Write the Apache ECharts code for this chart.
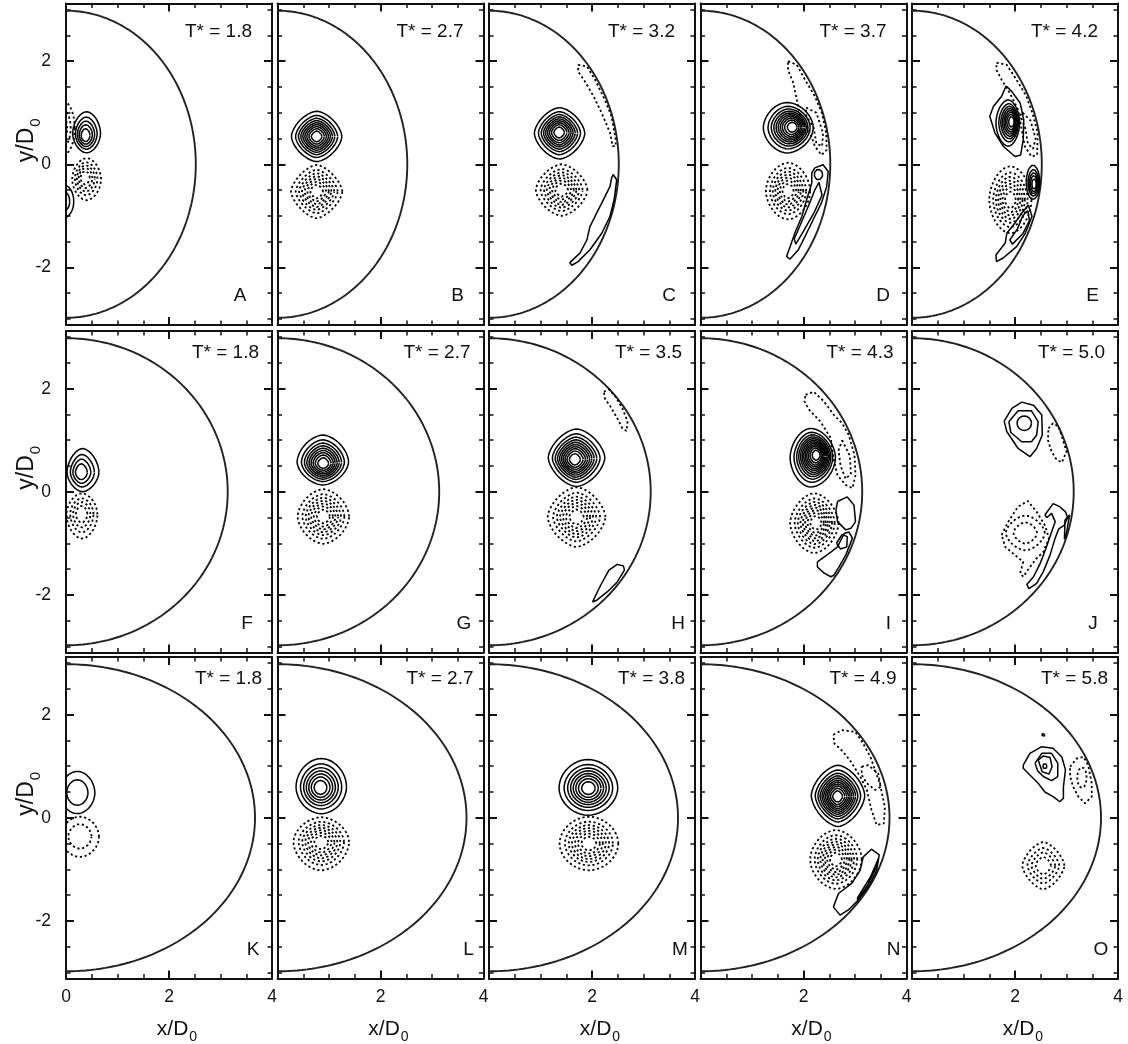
<!DOCTYPE html>
<html><head><meta charset="utf-8">
<script src="https://cdn.jsdelivr.net/npm/echarts@6/dist/echarts.min.js"></script>
<style>html,body{margin:0;padding:0;background:#fff}#chart{width:1128px;height:1044px}</style>
</head><body><div id="chart"></div>
<script>
// ---------------- DATA ----------------
const panelLetters = ['A','B','C','D','E','F','G','H','I','J','K','L','M','N','O'];
const timeValues = ['1.8','2.7','3.2','3.7','4.2','1.8','2.7','3.5','4.3','5.0','1.8','2.7','3.8','4.9','5.8'];
const dropSemiAxisX = [2.52, 3.14, 3.67];   // per row (x/D0)
const dropSemiAxisY = 2.98;                 // y/D0
const xRange = [0, 4];
const yRange = [-3.12, 3.12];

// vortex rings: [panel, dashed, cx, cy, rxLeft, rxRight, ryTop, ryBottom, coreX, coreY, levels, shapeExp]
const vortexRings = [
  [0,0, 0.40,0.60, 0.27,0.27, 0.42,0.38, 0.37,0.54, 5,1.8],
  [0,1,-0.10,0.70, 0.27,0.27, 0.55,0.55,-0.10,0.70, 3,2.0],
  [0,1, 0.40,-0.29,0.28,0.28, 0.41,0.41, 0.36,-0.25,5,1.8],
  [0,0,-0.05,-0.72,0.20,0.20, 0.32,0.32,-0.05,-0.72,2,2.0],
  [1,0, 0.76,0.54, 0.49,0.49, 0.49,0.49, 0.76,0.54, 9,1.6],
  [1,1, 0.76,-0.53,0.50,0.50, 0.52,0.52, 0.76,-0.53,7,1.5],
  [2,0, 1.37,0.60, 0.49,0.49, 0.50,0.50, 1.36,0.62, 9,1.6],
  [2,1, 1.41,-0.50,0.50,0.50, 0.50,0.50, 1.41,-0.50,7,1.6],
  [3,0, 1.68,0.71, 0.46,0.51, 0.49,0.49, 1.80,0.72,10,1.8],
  [3,1, 1.70,-0.52,0.43,0.43, 0.55,0.55, 1.70,-0.52,7,1.8],
  [3,0, 2.29,-0.20,0.08,0.08, 0.10,0.10, 2.29,-0.20,1,2.0],
  [4,0, 1.87,0.80, 0.24,0.22, 0.45,0.45, 1.95,0.83, 8,1.8],
  [4,0, 2.35,-0.35,0.13,0.13, 0.33,0.33, 2.38,-0.40,5,2.0],
  [4,1, 1.91,-0.69,0.41,0.41, 0.65,0.65, 1.91,-0.69,7,1.8],
  [5,0, 0.32,0.38, 0.30,0.32, 0.46,0.38, 0.28,0.37, 4,1.7],
  [5,1, 0.31,-0.44,0.30,0.30, 0.41,0.47, 0.30,-0.42,4,1.8],
  [6,0, 0.88,0.58, 0.50,0.50, 0.52,0.45, 0.89,0.54, 9,1.7],
  [6,1, 0.89,-0.48,0.50,0.50, 0.53,0.53, 0.89,-0.48,7,1.7],
  [7,0, 1.70,0.66, 0.55,0.55, 0.56,0.56, 1.66,0.62,10,1.6],
  [7,1, 1.70,-0.49,0.56,0.56, 0.58,0.58, 1.70,-0.49,7,1.6],
  [8,0, 2.14,0.66, 0.40,0.48, 0.57,0.57, 2.26,0.72,12,1.8],
  [8,1, 2.21,-0.61,0.47,0.47, 0.58,0.58, 2.25,-0.60,8,1.7],
  [9,0, 2.18,1.33, 0.14,0.14, 0.14,0.14, 2.18,1.33, 1,2.0],
  [9,1, 2.20,-0.80,0.38,0.38, 0.34,0.34, 2.20,-0.80,2,1.6],
  [10,0,0.22,0.48, 0.34,0.34, 0.42,0.40, 0.22,0.49, 2,1.9],
  [10,1,0.27,-0.37,0.37,0.37, 0.39,0.39, 0.27,-0.35,2,1.9],
  [11,0,0.85,0.60, 0.49,0.49, 0.55,0.52, 0.83,0.58, 7,1.9],
  [11,1,0.85,-0.47,0.54,0.54, 0.48,0.55, 0.85,-0.47,7,1.8],
  [12,0,1.92,0.58, 0.56,0.58, 0.55,0.53, 1.93,0.57, 8,1.9],
  [12,1,1.94,-0.50,0.57,0.57, 0.52,0.52, 1.94,-0.50,7,1.9],
  [13,0,2.67,0.43, 0.52,0.52, 0.59,0.60, 2.66,0.41,11,1.6],
  [13,1,2.63,-0.81,0.50,0.50, 0.57,0.57, 2.63,-0.81,8,1.8],
  [14,0,2.58,1.00, 0.04,0.04, 0.05,0.05, 2.58,1.00, 1,2.0],
  [14,0,2.55,1.61, 0.03,0.03, 0.03,0.03, 2.55,1.61, 1,2.0],
  [14,1,3.30,0.78, 0.09,0.09, 0.20,0.20, 3.30,0.78, 1,2.0],
  [14,1,2.55,-0.93,0.41,0.41, 0.46,0.46, 2.55,-0.93,4,1.5]
];

// irregular contour loops (x/D0, y/D0)
const contourC1 = [[1.73,1.93],[1.90,1.90],[2.06,1.64],[2.25,1.25],[2.38,0.93],[2.46,0.48],[2.46,0.35],[2.40,0.35],[2.35,0.61],[2.19,0.99],[2.03,1.32],[1.86,1.61],[1.73,1.80]];
const contourC2 = [[2.41,-0.20],[2.48,-0.30],[2.43,-0.69],[2.35,-1.01],[2.19,-1.34],[1.96,-1.66],[1.73,-1.89],[1.61,-1.96],[1.57,-1.91],[1.77,-1.72],[1.90,-1.47],[1.96,-1.21],[2.09,-0.95],[2.22,-0.69],[2.35,-0.43],[2.38,-0.27]];
const contourD1 = [[1.70,2.00],[1.87,1.93],[2.03,1.64],[2.22,1.32],[2.36,0.99],[2.44,0.61],[2.45,0.28],[2.35,0.18],[2.22,0.35],[2.13,0.61],[1.93,0.93],[1.87,1.25],[1.80,1.58],[1.70,1.83]];
const contourD2 = [[2.05,1.10],[2.25,1.00],[2.38,0.60],[2.36,0.35],[2.25,0.40],[2.20,0.70],[2.05,0.95]];
const contourD3 = [[2.22,-0.07],[2.38,-0.01],[2.48,-0.14],[2.45,-0.43],[2.35,-0.75],[2.22,-1.01],[2.06,-1.34],[1.90,-1.66],[1.74,-1.84],[1.67,-1.79],[1.74,-1.60],[1.83,-1.34],[1.97,-1.01],[2.06,-0.69],[2.16,-0.37],[2.16,-0.17]];
const contourD4 = [[2.30,-0.35],[2.36,-0.60],[2.20,-0.95],[2.00,-1.30],[1.85,-1.55],[1.82,-1.45],[1.95,-1.15],[2.10,-0.80],[2.22,-0.50]];
const contourE1 = [[1.83,1.52],[1.94,1.41],[2.10,1.19],[2.17,0.86],[2.16,0.48],[2.11,0.18],[2.00,0.15],[1.77,0.35],[1.61,0.61],[1.51,0.93],[1.58,1.12],[1.74,1.32],[1.81,1.48]];
const contourE2 = [[1.64,1.97],[1.84,1.93],[2.03,1.64],[2.22,1.32],[2.34,0.99],[2.44,0.61],[2.43,0.18],[2.32,0.15],[2.19,0.35],[2.13,0.67],[2.06,1.06],[1.90,1.38],[1.74,1.64],[1.64,1.83]];
const contourE3 = [[2.15,1.00],[2.30,0.85],[2.40,0.50],[2.35,0.30],[2.25,0.40],[2.20,0.70],[2.10,0.95]];
const contourE4 = [[2.26,-0.79],[2.33,-1.01],[2.20,-1.34],[2.03,-1.60],[1.77,-1.82],[1.64,-1.89],[1.63,-1.76],[1.81,-1.53],[1.84,-1.34],[2.00,-1.14],[2.13,-0.95]];
const contourE5 = [[2.25,-0.90],[2.28,-1.10],[2.15,-1.35],[1.95,-1.55],[1.90,-1.47],[2.05,-1.25],[2.15,-1.00]];
const contourH1 = [[2.23,1.94],[2.33,1.99],[2.46,1.84],[2.59,1.62],[2.69,1.36],[2.67,1.18],[2.59,1.23],[2.49,1.43],[2.36,1.65],[2.25,1.81]];
const contourH2 = [[2.01,-2.14],[2.17,-1.81],[2.33,-1.52],[2.49,-1.41],[2.61,-1.44],[2.63,-1.52],[2.49,-1.75],[2.30,-1.94],[2.10,-2.10]];
const contourI1 = [[2.04,1.88],[2.20,1.94],[2.40,1.75],[2.59,1.49],[2.75,1.33],[2.88,1.10],[2.99,0.71],[3.01,0.32],[2.95,0.07],[2.82,0.13],[2.66,0.32],[2.58,0.65],[2.53,1.04],[2.33,1.36],[2.11,1.59],[2.02,1.75]];
const contourI2 = [[2.75,1.00],[2.90,0.70],[2.92,0.35],[2.82,0.25],[2.72,0.50],[2.68,0.80]];
const contourI3 = [[2.66,-0.19],[2.85,-0.10],[2.98,-0.26],[3.01,-0.58],[2.92,-0.71],[2.82,-0.74],[2.66,-0.58],[2.63,-0.36]];
const contourI4 = [[2.27,-1.36],[2.53,-1.17],[2.66,-1.07],[2.79,-0.81],[2.88,-0.78],[2.95,-0.90],[2.82,-1.23],[2.69,-1.46],[2.59,-1.62],[2.53,-1.65],[2.40,-1.58],[2.27,-1.46]];
const contourI5 = [[2.64,-1.00],[2.75,-0.83],[2.85,-0.87],[2.84,-1.07],[2.72,-1.11]];
const contourJ1 = [[1.79,1.37],[1.94,1.62],[2.13,1.74],[2.36,1.68],[2.52,1.49],[2.53,1.10],[2.42,0.84],[2.29,0.68],[2.06,0.84],[1.84,1.17]];
const contourJ2 = [[1.88,1.36],[2.06,1.57],[2.32,1.57],[2.45,1.36],[2.42,1.10],[2.32,0.97],[2.13,0.97],[1.92,1.15]];
const contourJ3 = [[2.65,1.23],[2.74,1.33],[2.85,1.26],[2.92,1.04],[3.00,0.78],[2.91,0.57],[2.81,0.62],[2.71,0.78],[2.64,1.00]];
const contourJ4 = [[1.74,-0.84],[1.87,-0.58],[2.06,-0.29],[2.25,-0.18],[2.42,-0.39],[2.58,-0.65],[2.66,-0.90],[2.55,-1.17],[2.42,-1.29],[2.29,-1.46],[2.16,-1.65],[2.10,-1.58],[2.16,-1.36],[2.00,-1.23],[1.81,-1.07]];
const contourJ5 = [[2.58,-0.45],[2.74,-0.23],[2.87,-0.29],[2.98,-0.39],[3.02,-0.50],[2.96,-0.65],[2.85,-0.72],[2.78,-0.90],[2.68,-1.23],[2.55,-1.55],[2.42,-1.78],[2.27,-1.88],[2.23,-1.80],[2.36,-1.65],[2.49,-1.39],[2.60,-1.10],[2.70,-0.81],[2.78,-0.58],[2.71,-0.42],[2.62,-0.50]];
const contourJ6 = [[2.97,-0.55],[3.06,-0.45],[3.00,-0.80],[2.96,-0.92]];
const contourN1 = [[2.58,1.61],[2.74,1.70],[3.00,1.67],[3.12,1.51],[3.30,1.18],[3.48,0.67],[3.58,0.21],[3.56,-0.11],[3.42,-0.14],[3.32,0.15],[3.23,0.54],[3.10,0.80],[2.90,1.12],[2.74,1.31],[2.60,1.44]];
const contourN2 = [[3.13,0.99],[3.26,1.02],[3.45,0.86],[3.50,0.60],[3.39,0.54],[3.23,0.67],[3.13,0.83]];
const contourN3 = [[2.58,-1.73],[2.68,-1.47],[2.94,-1.27],[3.10,-1.02],[3.16,-0.76],[3.32,-0.61],[3.47,-0.72],[3.42,-1.02],[3.26,-1.34],[3.06,-1.60],[2.87,-1.79],[2.71,-1.89]];
const contourN4 = [[3.05,-1.55],[3.30,-1.15],[3.45,-0.80],[3.42,-0.95],[3.25,-1.30],[3.05,-1.60]];
const contourO1 = [[2.16,1.02],[2.29,1.25],[2.52,1.38],[2.74,1.35],[2.91,1.18],[2.98,0.93],[2.94,0.60],[2.94,0.38],[2.87,0.31],[2.74,0.41],[2.58,0.50],[2.45,0.67],[2.29,0.83],[2.16,0.96]];
const contourO2 = [[2.39,1.06],[2.52,1.25],[2.71,1.25],[2.83,1.06],[2.83,0.80],[2.71,0.72],[2.55,0.80],[2.44,0.91]];
const contourO3 = [[2.45,1.12],[2.55,1.20],[2.68,1.17],[2.72,0.99],[2.66,0.85],[2.53,0.89]];
const contourO4 = [[3.07,0.99],[3.20,1.15],[3.33,1.18],[3.42,1.02],[3.49,0.67],[3.49,0.41],[3.36,0.28],[3.23,0.41],[3.13,0.60],[3.07,0.80]];

// [panel, dashed, loop]
const freeContours = [
  [2,1,contourC1],[2,0,contourC2],
  [3,1,contourD1],[3,1,contourD2],[3,0,contourD3],[3,0,contourD4],
  [4,0,contourE1],[4,1,contourE2],[4,1,contourE3],[4,0,contourE4],[4,0,contourE5],
  [7,1,contourH1],[7,0,contourH2],
  [8,1,contourI1],[8,1,contourI2],[8,0,contourI3],[8,0,contourI4],[8,0,contourI5],
  [9,0,contourJ1],[9,0,contourJ2],[9,1,contourJ3],[9,1,contourJ4],[9,0,contourJ5],[9,0,contourJ6],
  [13,1,contourN1],[13,1,contourN2],[13,0,contourN3],[13,0,contourN4],
  [14,0,contourO1],[14,0,contourO2],[14,0,contourO3],[14,1,contourO4]
];

// ---------------- LAYOUT ----------------
const colLeft = [66, 277.5, 489, 700.5, 912];
const rowTop = [3.5, 331, 657];
const PW = 206, PH = 321.5;
const FONT = '"Liberation Sans", Arial, Helvetica, sans-serif';
const INK = '#111';
const tInset = [20, 13, 10];
const tOffset = [28, 22, 22];
const letterInset = [32, 26, 26, 23.5, 25.5, 25, 19.5, 17, 18, 25, 19, 15, 15, 13, 17];

function levelScales(n) {
  const base = Math.sqrt(Math.log(n + 1));
  const out = [];
  for (let i = 1; i <= n; i++) out.push(Math.sqrt(-Math.log(i / (n + 1))) / base);
  return out;
}
function ringPoints(v, s) {
  const cx = v[2], cy = v[3], rxL = v[4], rxR = v[5], ryT = v[6], ryB = v[7], kx = v[8], ky = v[9], p = v[11];
  const ox = kx + s * (cx - kx), oy = ky + s * (cy - ky);
  const pts = [];
  for (let j = 0; j <= 96; j++) {
    const t = j / 96 * 2 * Math.PI;
    const c = Math.cos(t), sn = Math.sin(t);
    const ex = Math.sign(c) * Math.pow(Math.abs(c), 2 / p);
    const ey = Math.sign(sn) * Math.pow(Math.abs(sn), 2 / p);
    pts.push([ox + s * ex * (c >= 0 ? rxR : rxL), oy + s * ey * (sn >= 0 ? ryT : ryB)]);
  }
  return pts;
}
function boundaryPoints(a, b) {
  const pts = [];
  for (let j = 0; j <= 120; j++) {
    const t = -Math.PI / 2 + j / 120 * Math.PI;
    pts.push([a * Math.cos(t), b * Math.sin(t)]);
  }
  return pts;
}

const grids = [], xAxes = [], yAxes = [], series = [], graphics = [];
const tickLine = { color: INK, width: 2 };
const minorLine = { color: INK, width: 1.5 };
const solidStyle = { color: '#000', width: 1.5, type: 'solid' };
const dotStyle = { color: '#000', width: 1.8, type: [2.2, 2.6] };

function lineSeries(i, data, style, z) {
  return { type: 'line', xAxisIndex: 2 * i, yAxisIndex: 2 * i, data: data, symbol: 'none', showSymbol: false,
    lineStyle: style, silent: true, animation: false, clip: true, z: z, emphasis: { disabled: true } };
}

for (let i = 0; i < 15; i++) {
  const r = Math.floor(i / 5), c = i % 5;
  const L = colLeft[c], T = rowTop[r];
  grids.push({ left: L, top: T, width: PW, height: PH, containLabel: false });
  ['bottom', 'top'].forEach(pos => {
    xAxes.push({ type: 'value', gridIndex: i, min: xRange[0], max: xRange[1], interval: 2, position: pos,
      axisLine: { show: true, onZero: false, lineStyle: { color: INK, width: 2 } },
      axisTick: { show: true, inside: true, length: 8, lineStyle: tickLine },
      minorTick: { show: true, splitNumber: 4, length: 4.5, lineStyle: minorLine },
      splitLine: { show: false }, minorSplitLine: { show: false },
      axisLabel: { show: pos === 'bottom' && r === 2, showMinLabel: c === 0, showMaxLabel: true,
        margin: 10, fontSize: 17.5, color: INK, fontFamily: FONT } });
  });
  ['left', 'right'].forEach(pos => {
    yAxes.push({ type: 'value', gridIndex: i, min: yRange[0], max: yRange[1], splitNumber: 3, position: pos,
      axisLine: { show: true, onZero: false, lineStyle: { color: INK, width: 2 } },
      axisTick: { show: true, inside: true, length: 8, lineStyle: tickLine },
      minorTick: { show: true, splitNumber: 4, length: 4.5, lineStyle: minorLine },
      splitLine: { show: false }, minorSplitLine: { show: false },
      axisLabel: { show: pos === 'left' && c === 0, showMinLabel: false, showMaxLabel: false,
        margin: 15, fontSize: 17.5, color: INK, fontFamily: FONT } });
  });
  // droplet boundary
  series.push(lineSeries(i, boundaryPoints(dropSemiAxisX[r], dropSemiAxisY), { color: '#222', width: 1.9 }, 2));
  // annotations
  graphics.push({ type: 'text', x: L + PW - tInset[r], y: T + tOffset[r], silent: true,
    style: { text: 'T* = ' + timeValues[i], fontSize: 19, fontFamily: FONT, fill: INK, align: 'right', verticalAlign: 'middle' } });
  graphics.push({ type: 'text', x: L + PW - letterInset[i], y: T + PH - 29, silent: true,
    style: { text: panelLetters[i], fontSize: 19, fontFamily: FONT, fill: INK, align: 'center', verticalAlign: 'middle' } });
}

vortexRings.forEach(v => {
  const scales = levelScales(v[10]);
  scales.forEach(s => series.push(lineSeries(v[0], ringPoints(v, s), v[1] ? dotStyle : solidStyle, 3)));
});
freeContours.forEach(fc => {
  const loop = fc[2].concat([fc[2][0]]);
  series.push(lineSeries(fc[0], loop, fc[1] ? dotStyle : solidStyle, 3));
});

const richLabel = (main, size, sub) => ({
  text: '{m|' + main + '}{s|0}',
  rich: { m: { fontSize: size, fontFamily: FONT, fill: INK, color: INK },
          s: { fontSize: sub, fontFamily: FONT, fill: INK, color: INK, padding: [17, 0, 0, 1] } },
  align: 'center', verticalAlign: 'middle', fill: INK
});
for (let r = 0; r < 3; r++) {
  const zeroY = rowTop[r] + PH / 2;
  graphics.push({ type: 'text', x: 27, y: zeroY - 24, rotation: Math.PI / 2, silent: true, style: richLabel('y/D', 23, 15) });
}
for (let c = 0; c < 5; c++) {
  graphics.push({ type: 'text', x: colLeft[c] + PW / 2 + 8, y: 1029, silent: true, style: richLabel('x/D', 21, 14) });
}

const chart = echarts.init(document.getElementById('chart'), null, { renderer: 'canvas' });
chart.setOption({ animation: false, backgroundColor: '#fff', grid: grids, xAxis: xAxes, yAxis: yAxes, series: series, graphic: graphics });
</script></body></html>
